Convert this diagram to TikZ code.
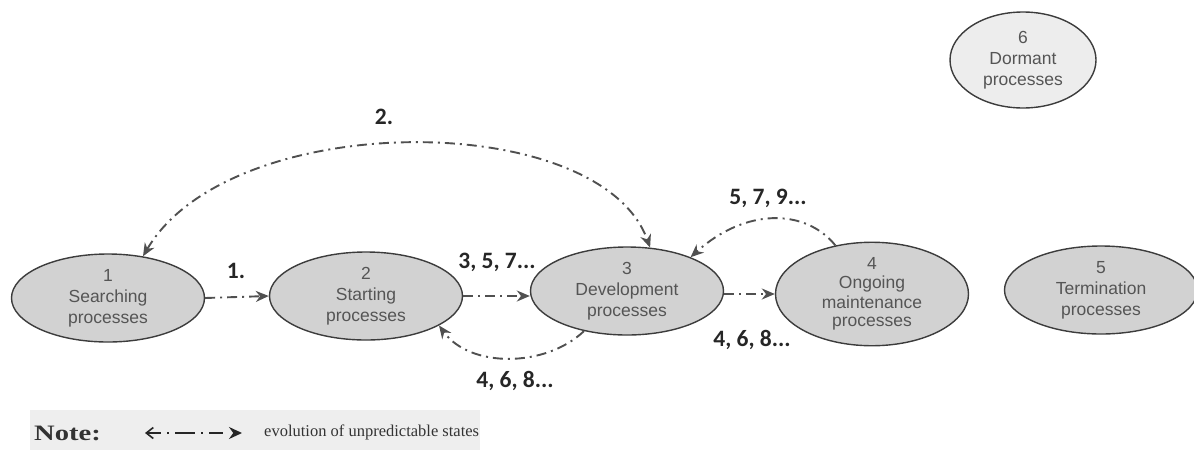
\documentclass[tikz,border=0pt]{standalone}
\usepackage{fontspec}
\setmainfont{Liberation Serif}
\newfontfamily\ellfont{Liberation Sans}
\newfontfamily\lblfont{Carlito}
\usetikzlibrary{shapes.geometric,arrows.meta}
\definecolor{ellfill}{HTML}{D2D2D2}
\definecolor{ellfilllight}{HTML}{EDEDED}
\definecolor{ellline}{HTML}{3C3C3C}
\definecolor{elltext}{HTML}{555555}
\definecolor{flowcol}{HTML}{505050}
\definecolor{notebg}{HTML}{EEEEEE}
\tikzset{
  proc/.style={ellipse, draw=ellline, line width=1.4pt, fill=ellfill,
    minimum width=193pt, minimum height=88pt, inner sep=0pt,
    align=center, text=elltext, font=\ellfont\fontsize{17.5}{21}\selectfont},
  flow/.style={draw=flowcol, line width=1.9pt,
    dash pattern=on 10pt off 5pt on 2pt off 5pt,
    -{Stealth[length=13pt,width=11pt]}},
  lbl/.style={font=\lblfont\bfseries\fontsize{23.5}{26}\selectfont, text=black!85, inner sep=1pt}
}
\begin{document}
\begin{tikzpicture}[x=1pt,y=-1pt]
\useasboundingbox (0,0) rectangle (1194,450);
% note background
\fill[notebg] (30,410) rectangle (480,450);
% nodes
\node[proc] (n1) at (108,298) {1\\Searching\\processes};
\node[proc] (n2) at (366,296) {2\\Starting\\processes};
\node[proc] (n3) at (627,291) {3\\Development\\processes};
\node[proc, font=\ellfont\fontsize{17.5}{19.5}\selectfont] (n4) at (872,294) {4\\Ongoing\\maintenance\\[-1pt]processes};
\node[proc] (n5) at (1101,290) {5\\Termination\\processes};
\node[proc, fill=ellfilllight, minimum width=146pt, minimum height=96pt] (n6) at (1023,60) {6\\Dormant\\processes};
% connectors
\draw[flow] (n1.east) -- (n2.west);
\draw[flow] (n2.east) -- (n3.west |- n2.east);
\draw[flow] (n3.east |- n4.west) -- (n4.west);
\draw[flow] (n3.223) .. controls (545,368) and (470,368) .. (n2.-22);
\draw[flow] (n4.127) .. controls (805,208) and (745,208) .. (n3.28);
\draw[flow, {Stealth[length=13pt,width=11pt]}-{Stealth[length=13pt,width=11pt]}] (n1.50) .. controls (230,108) and (600,108) .. (n3.62);
% labels
\node[lbl] (l1) at (236,271) {1.};
\node[lbl] (l2) at (384,117) {2.};
\node[lbl] (l3) at (497,262) {3, 5, 7...};
\node[lbl] (l4) at (515,381) {4, 6, 8...};
\node[lbl] (l5) at (752,340) {4, 6, 8...};
\node[lbl] (l6) at (768,198) {5, 7, 9...};
% note
\node[font=\bfseries\fontsize{22}{24}\selectfont, text=black!80, anchor=west, inner sep=0pt] (note) at (34,433) {\scalebox{1.3}[1]{Note:}};
\coordinate (na) at (145,433);
\coordinate (nb) at (242,433);
\draw[line width=1.6pt, draw=black!85,
  dash pattern=on 14pt off 6pt on 2pt off 6pt on 20pt off 6pt on 2pt off 6pt on 14pt off 200pt,
  {Straight Barb[length=7pt,width=11pt,line width=1.6pt]}-{Stealth[length=13pt,width=12pt]}] (na) -- (nb);
\node[font=\fontsize{16.5}{18}\selectfont, text=black!80, anchor=west, inner sep=0pt] (notetext) at (264,432) {evolution of unpredictable states};
\end{tikzpicture}
\end{document}
